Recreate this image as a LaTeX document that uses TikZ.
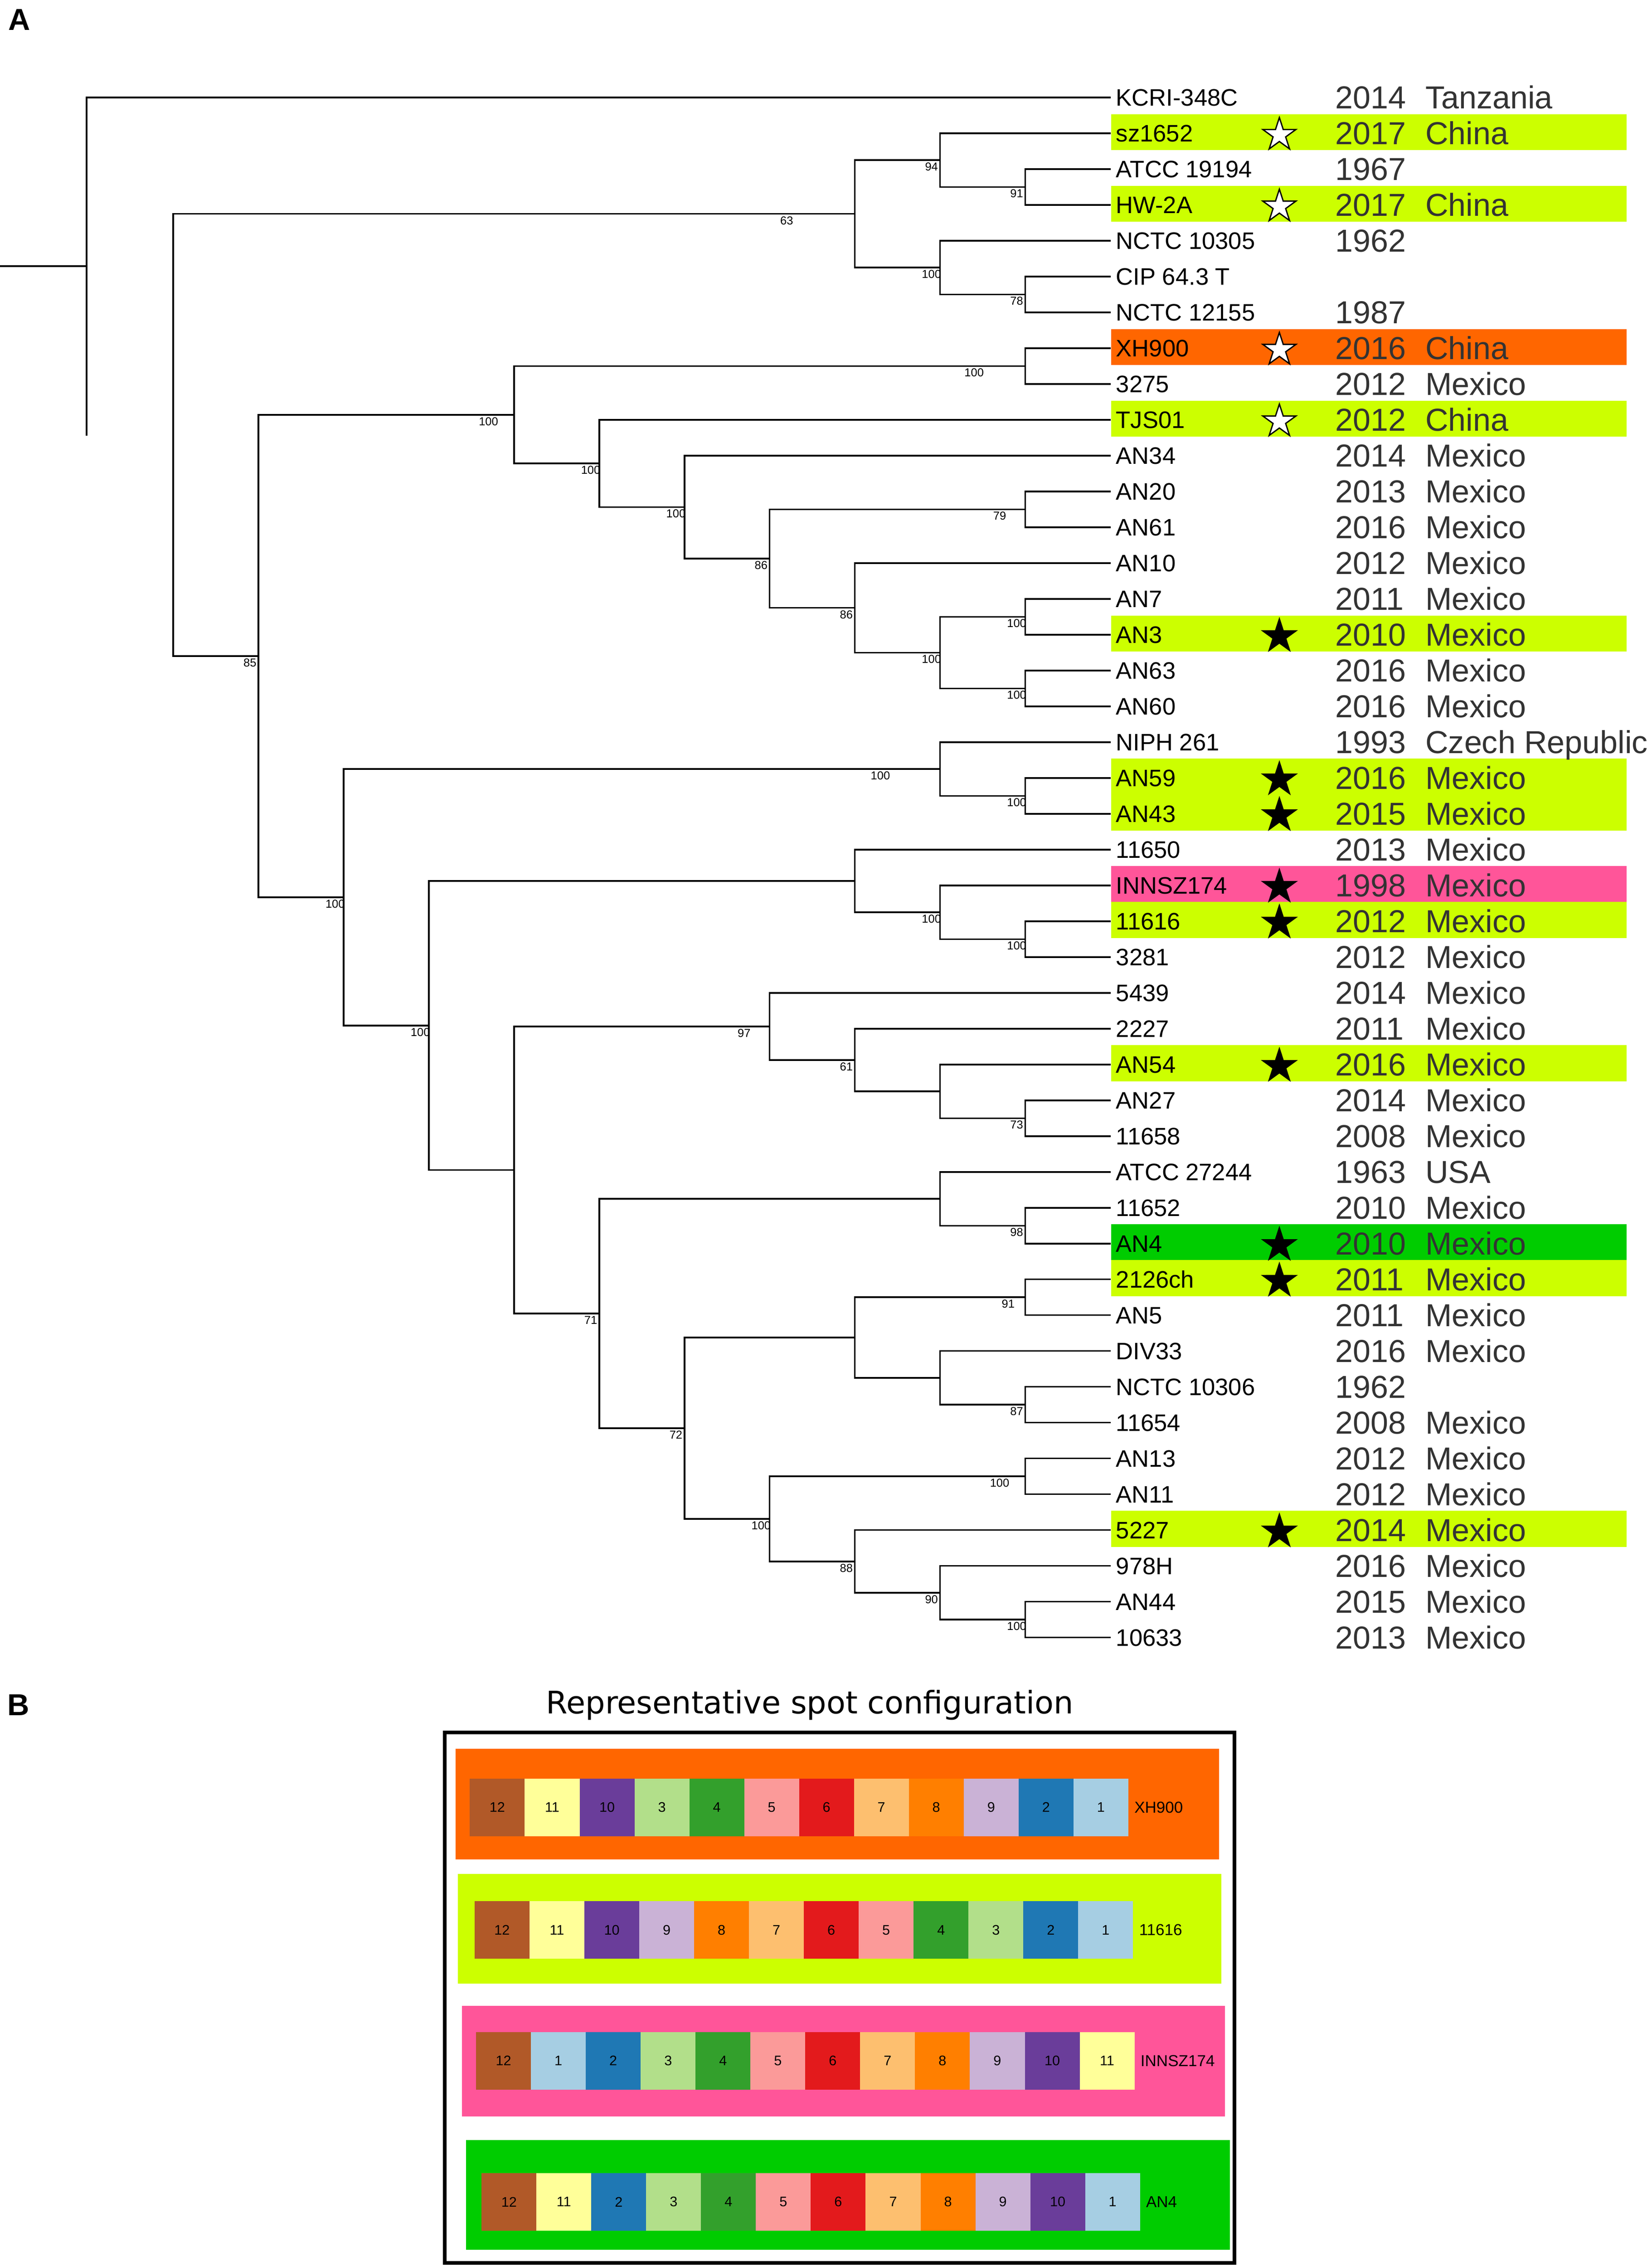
\documentclass[tikz,border=0pt]{standalone}
\usepackage{fontspec}
\setmainfont{Liberation Sans}
\newfontfamily\dejavu{DejaVu Sans}
\usetikzlibrary{positioning,shapes.geometric}

\definecolor{limehl}{HTML}{CCFF00}
\definecolor{orangehl}{HTML}{FF6600}
\definecolor{pinkhl}{HTML}{FF5599}
\definecolor{greenhl}{HTML}{00CC00}
\definecolor{yeargray}{HTML}{333333}
% spot colours
\definecolor{sp1}{HTML}{A6CEE3}
\definecolor{sp2}{HTML}{1F78B4}
\definecolor{sp3}{HTML}{B2DF8A}
\definecolor{sp4}{HTML}{33A02C}
\definecolor{sp5}{HTML}{FB9A99}
\definecolor{sp6}{HTML}{E31A1C}
\definecolor{sp7}{HTML}{FDBF6F}
\definecolor{sp8}{HTML}{FF7F00}
\definecolor{sp9}{HTML}{CAB2D6}
\definecolor{sp10}{HTML}{6A3D9A}
\definecolor{sp11}{HTML}{FFFF99}
\definecolor{sp12}{HTML}{B15928}

\begin{document}
\begin{tikzpicture}[
  x=1pt, y=-1pt,
  branch/.style={
    line width=1.1pt,
    line cap=rect
  },
  boot/.style={
    pos=0.9,
    anchor=north,
    inner sep=0pt,
    yshift=-1.2pt,
    font=\fontsize{8}{8}\selectfont
  },
  leaf/.style={
    anchor=base west,
    inner xsep=4.2pt,
    inner ysep=0pt,
    font=\fontsize{16.5}{18}\selectfont
  },
  yearlabel/.style={
    anchor=base west,
    inner sep=0pt,
    text=yeargray,
    font=\fontsize{22}{24}\selectfont
  },
  whitestar/.style={
    star,
    star points=5,
    star point ratio=2.618,
    minimum size=24pt,
    inner sep=0pt,
    draw=black,
    line width=0.9pt,
    fill=white
  },
  blackstar/.style={
    whitestar,
    fill=black
  },
  spot/.style={
    rectangle,
    minimum width=38pt,
    minimum height=40pt,
    inner sep=0pt,
    font=\fontsize{9.6}{9.6}\selectfont
  },
  spotname/.style={
    inner sep=0pt,
    font=\fontsize{11}{11}\selectfont
  },
  panel/.style={
    anchor=base west,
    inner sep=0pt,
    font=\fontsize{21}{21}\selectfont\bfseries
  }]
  \useasboundingbox (0,0) rectangle (1144,1569.8);
  % panel A
  \node [panel] (pA) at (5.5,21) {A};
  % highlight
  \foreach \i/\col in {2/limehl,4/limehl,8/orangehl,10/limehl,16/limehl,20/limehl,21/limehl,
                       23/pinkhl,24/limehl,28/limehl,33/greenhl,34/limehl,41/limehl}
    \fill [\col] (769.5,{67.5+24.8*(\i-1)-13.3}) rectangle (1126.5,{67.5+24.8*(\i-1)+11.7});
  % leaves
  \foreach \i/\txt in {1/KCRI-348C,2/sz1652,3/ATCC 19194,4/HW-2A,5/NCTC 10305,6/CIP 64.3 T,
                       7/NCTC 12155,8/XH900,9/3275,10/TJS01,11/AN34,12/AN20,13/AN61,14/AN10,
                       15/AN7,16/AN3,17/AN63,18/AN60,19/NIPH 261,20/AN59,21/AN43,22/11650,
                       23/INNSZ174,24/11616,25/3281,26/5439,27/2227,28/AN54,29/AN27,30/11658,
                       31/ATCC 27244,32/11652,33/AN4,34/2126ch,35/AN5,36/DIV33,37/NCTC 10306,
                       38/11654,39/AN13,40/AN11,41/5227,42/978H,43/AN44,44/10633} {
    \coordinate (t\i) at (768.5,{67.5+24.8*(\i-1)});
    \node [leaf] (lf\i) at (768.5,{67.5+24.8*(\i-1)+5.9}) {\txt};
  }
  % years
  \foreach \i/\yr in {1/2014,2/2017,3/1967,4/2017,5/1962,7/1987,8/2016,9/2012,10/2012,11/2014,
                      12/2013,13/2016,14/2012,15/2011,16/2010,17/2016,18/2016,19/1993,20/2016,
                      21/2015,22/2013,23/1998,24/2012,25/2012,26/2014,27/2011,28/2016,29/2014,
                      30/2008,31/1963,32/2010,33/2010,34/2011,35/2011,36/2016,37/1962,38/2008,
                      39/2012,40/2012,41/2014,42/2016,43/2015,44/2013}
    \node [yearlabel] (yr\i) at (924.5,{67.5+24.8*(\i-1)+7.8}) {\yr};
  % countries
  \foreach \i/\ctry in {1/Tanzania,2/China,4/China,8/China,10/China,19/Czech Republic,31/USA}
    \node [yearlabel] (ct\i) at (987,{67.5+24.8*(\i-1)+7.8}) {\ctry};
  \foreach \i in {9,11,12,13,14,15,16,17,18,20,21,22,23,24,25,26,27,28,29,30,
                  32,33,34,35,36,38,39,40,41,42,43,44}
    \node [yearlabel] (ct\i) at (987,{67.5+24.8*(\i-1)+7.8}) {Mexico};
  % stars
  \foreach \i in {2,4,8,10}
    \node [whitestar] (ws\i) at (886,{67.5+24.8*(\i-1)+1.1}) {};
  \foreach \i in {16,20,21,23,24,28,33,34,41}
    \node [blackstar] (bs\i) at (886,{67.5+24.8*(\i-1)+1.1}) {};
  % inner nodes of the tree
  \coordinate (rootin) at (0,184.35);
  \coordinate (root) at (60,184.35);
  \coordinate (n1) at (120,301.2);
  \coordinate (nA) at (592,148.1);
  \coordinate (nA1) at (651,110.9);
  \coordinate (nA11) at (710,129.5);
  \coordinate (nA2) at (651,185.3);
  \coordinate (nA21) at (710,203.9);
  \coordinate (nB) at (179,454.25);
  \coordinate (nC) at (356,287.2);
  \coordinate (nC1) at (710,253.5);
  \coordinate (nC2) at (415,320.9);
  \coordinate (nC3) at (474,351.15);
  \coordinate (nC4) at (533,386.8);
  \coordinate (nC5) at (710,352.7);
  \coordinate (nC6) at (592,420.9);
  \coordinate (nC7) at (651,451.9);
  \coordinate (nC8) at (710,427.1);
  \coordinate (nC9) at (710,476.7);
  \coordinate (nD) at (238,621.3);
  \coordinate (nE) at (651,532.5);
  \coordinate (nE1) at (710,551.1);
  \coordinate (nF) at (297,710.1);
  \coordinate (nG) at (592,610.0);
  \coordinate (nG1) at (651,631.7);
  \coordinate (nG2) at (710,650.3);
  \coordinate (nH) at (356,810.15);
  \coordinate (nI) at (533,710.75);
  \coordinate (nI1) at (592,734.0);
  \coordinate (nI2) at (651,755.7);
  \coordinate (nI3) at (710,774.3);
  \coordinate (nJ) at (415,909.55);
  \coordinate (nJ1) at (651,830.1);
  \coordinate (nJ11) at (710,848.7);
  \coordinate (nK) at (474,989.0);
  \coordinate (nK1) at (592,926.2);
  \coordinate (nK11) at (710,898.3);
  \coordinate (nK12) at (651,954.1);
  \coordinate (nK121) at (710,972.7);
  \coordinate (nL) at (533,1051.75);
  \coordinate (nL1) at (710,1022.3);
  \coordinate (nL2) at (592,1081.2);
  \coordinate (nL21) at (651,1102.9);
  \coordinate (nL211) at (710,1121.5);
  \begin{scope}
  % verticals
  \foreach \p/\a/\b in {root/t1/n1,n1/nA/nB,nA/nA1/nA2,nA1/t2/nA11,nA11/t3/t4,nA2/t5/nA21,
                        nA21/t6/t7,nB/nC/nD,nC/nC1/nC2,nC1/t8/t9,nC2/t10/nC3,nC3/t11/nC4,
                        nC4/nC5/nC6,nC5/t12/t13,nC6/t14/nC7,nC7/nC8/nC9,nC8/t15/t16,nC9/t17/t18,
                        nD/nE/nF,nE/t19/nE1,nE1/t20/t21,nF/nG/nH,nG/t22/nG1,nG1/t23/nG2,
                        nG2/t24/t25,nH/nI/nJ,nI/t26/nI1,nI1/t27/nI2,nI2/t28/nI3,nI3/t29/t30,
                        nJ/nJ1/nK,nJ1/t31/nJ11,nJ11/t32/t33,nK/nK1/nL,nK1/nK11/nK12,
                        nK11/t34/t35,nK12/t36/nK121,nK121/t37/t38,nL/nL1/nL2,nL1/t39/t40,
                        nL2/t41/nL21,nL21/t42/nL211,nL211/t43/t44}
    \draw [branch] (\p |- \a) -- (\p |- \b);
  % branches with support values
  \foreach \p/\c/\b in {n1/nA/63,nA/nA1/94,nA1/nA11/91,nA/nA2/100,nA2/nA21/78,n1/nB/85,
                        nB/nC/100,nC/nC1/100,nC/nC2/100,nC2/nC3/100,nC3/nC4/86,nC4/nC5/79,
                        nC4/nC6/86,nC6/nC7/100,nC7/nC8/100,nC7/nC9/100,nB/nD/100,nD/nE/100,
                        nE/nE1/100,nD/nF/100,nG/nG1/100,nG1/nG2/100,nH/nI/97,nI/nI1/61,
                        nI2/nI3/73,nH/nJ/71,nJ1/nJ11/98,nJ/nK/72,nK1/nK11/91,nK12/nK121/87,
                        nK/nL/100,nL/nL1/100,nL/nL2/88,nL2/nL21/90,nL21/nL211/100}
    \draw [branch] (\p |- \c) -- (\c) node [boot] (sv-\c) {\b};
  % branches without support values
  \draw [branch] (rootin) -- (root);
  \foreach \p/\c in {root/t1,nF/nG,nF/nH,nI1/nI2,nJ/nJ1,nK/nK1,nK1/nK12,
                     nA1/t2,nA11/t3,nA11/t4,nA2/t5,nA21/t6,nA21/t7,nC1/t8,nC1/t9,nC2/t10,
                     nC3/t11,nC5/t12,nC5/t13,nC6/t14,nC8/t15,nC8/t16,nC9/t17,nC9/t18,
                     nE/t19,nE1/t20,nE1/t21,nG/t22,nG1/t23,nG2/t24,nG2/t25,nI/t26,nI1/t27,
                     nI2/t28,nI3/t29,nI3/t30,nJ1/t31,nJ11/t32,nJ11/t33,nK11/t34,nK11/t35,
                     nK12/t36,nK121/t37,nK121/t38,nL1/t39,nL1/t40,nL2/t41,nL21/t42,
                     nL211/t43,nL211/t44}
    \draw [branch] (\p |- \c) -- (\c);
  \end{scope}
  % panel B
  \node [panel] (pB) at (5,1188) {B};
  \node [anchor=base, inner sep=0pt, font=\dejavu\fontsize{21.5}{24}\selectfont] (title)
    at (560.9,1186.7) {Representative spot configuration};
  \draw [line width=2.5pt] (308,1199.7) rectangle (855,1567);
  % XH900
  \fill [orangehl] (315.4,1211) rectangle (844.3,1287.5);
  \foreach \k [count=\j] in {12,11,10,3,4,5,6,7,8,9,2,1}
    \node [spot, fill=sp\k] (xh-\j) at ({325.4+38*\j-19},1251.5) {\k};
  \node [spotname, right=3.8pt of xh-12] (xhname) {XH900};
  % 11616
  \fill [limehl] (317.2,1297.6) rectangle (845.7,1373.6);
  \foreach \k [count=\j] in {12,11,10,9,8,7,6,5,4,3,2,1}
    \node [spot, fill=sp\k] (ss-\j) at ({328.7+38*\j-19},1336.4) {\k};
  \node [spotname, right=3.8pt of ss-12] (ssname) {11616};
  % INNSZ174
  \fill [pinkhl] (319.8,1389) rectangle (848.3,1465.4);
  \foreach \k [count=\j] in {12,1,2,3,4,5,6,7,8,9,10,11}
    \node [spot, fill=sp\k] (in-\j) at ({329.7+38*\j-19},1427) {\k};
  \node [spotname, right=3.8pt of in-12] (inname) {INNSZ174};
  % AN4
  \fill [greenhl] (322.8,1482) rectangle (851.7,1558);
  \foreach \k [count=\j] in {12,11,2,3,4,5,6,7,8,9,10,1}
    \node [spot, fill=sp\k] (an-\j) at ({333.5+38*\j-19},1524.7) {\k};
  \node [spotname, right=3.8pt of an-12] (anname) {AN4};
\end{tikzpicture}
\end{document}
